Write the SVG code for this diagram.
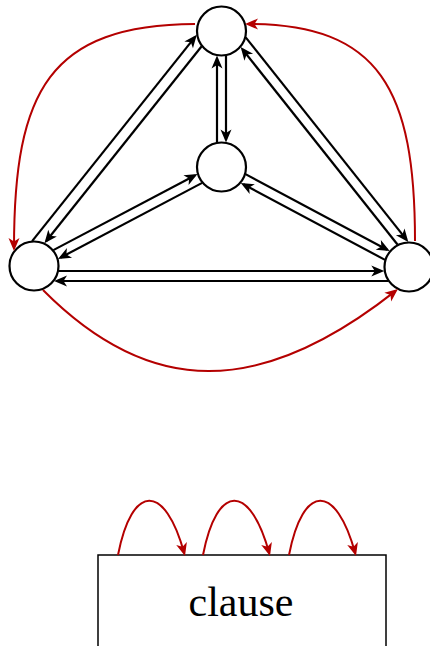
<svg xmlns="http://www.w3.org/2000/svg" width="430" height="646" viewBox="0 0 430 646">
<style>
.node{fill:#fff;stroke:#000;stroke-width:2.2}
.e{fill:none;stroke:#000;stroke-width:2.2;marker-end:url(#ab)}
.r{fill:none;stroke:#b40000;stroke-width:2;marker-end:url(#ar)}
.box{fill:#fff;stroke:#000;stroke-width:1.5}
.lbl{font-family:"Liberation Serif",serif;font-size:42px;fill:#000}
</style>
<defs>
<marker id="ab" viewBox="-14 -7 16 14" refX="-3" refY="0" markerWidth="16" markerHeight="14" markerUnits="userSpaceOnUse" orient="auto"><path d="M0,0 L-13,-5.5 L-9.5,0 L-13,5.5 Z" fill="#000"/></marker>
<marker id="ar" viewBox="-14 -7 16 14" refX="-3" refY="0" markerWidth="16" markerHeight="14" markerUnits="userSpaceOnUse" orient="auto"><path d="M0,0 L-13,-5.5 L-9.5,0 L-13,5.5 Z" fill="#b40000"/></marker>
</defs>
<g id="nodeT"><circle class="node" cx="221.5" cy="31" r="24.5"/></g>
<g id="nodeM"><circle class="node" cx="221.5" cy="167" r="24.5"/></g>
<g id="nodeL"><circle class="node" cx="34" cy="266" r="24.5"/></g>
<g id="nodeR"><circle class="node" cx="409" cy="267" r="24.5"/></g>
<g id="clauseBox"><rect class="box" x="98" y="555" width="288" height="110"/><text class="lbl" x="241" y="616" text-anchor="middle">clause</text></g>
<g id="connectors">
<path class="e" d="M226,55.6 L226,139.4"/>
<path class="e" d="M217,142.4 L217,58.6"/>
<path class="e" d="M202.17,182.86 L60.64,257.58"/>
<path class="e" d="M53.33,250.14 L194.86,175.42"/>
<path class="e" d="M245.46,174.11 L387.09,249.66"/>
<path class="e" d="M385.04,259.89 L243.41,184.34"/>
<path class="e" d="M201.67,46.23 L46.32,240.94"/>
<path class="e" d="M32.14,241.07 L194.91,37.08"/>
<path class="e" d="M397.68,244.71 L242.52,49.42"/>
<path class="e" d="M245.69,37.33 L406.44,239.66"/>
<path class="e" d="M58.5,271 L381.3,271"/>
<path class="e" d="M388.3,281 L57,281"/>
<path class="r" d="M195,24 C50,25 14,90 14,248"/>
<path class="r" d="M415,241 C415,90 380,24 248,24"/>
<path class="r" d="M43,290 C150,398 260,398 395.6,290.9"/>
<path class="r" d="M118,555 C132,483 165,483 184.2,553.1"/>
<path class="r" d="M203,555 C217,483 250,483 269.2,553.1"/>
<path class="r" d="M289,555 C303,483 336,483 355.2,553.1"/>
</g>
</svg>
